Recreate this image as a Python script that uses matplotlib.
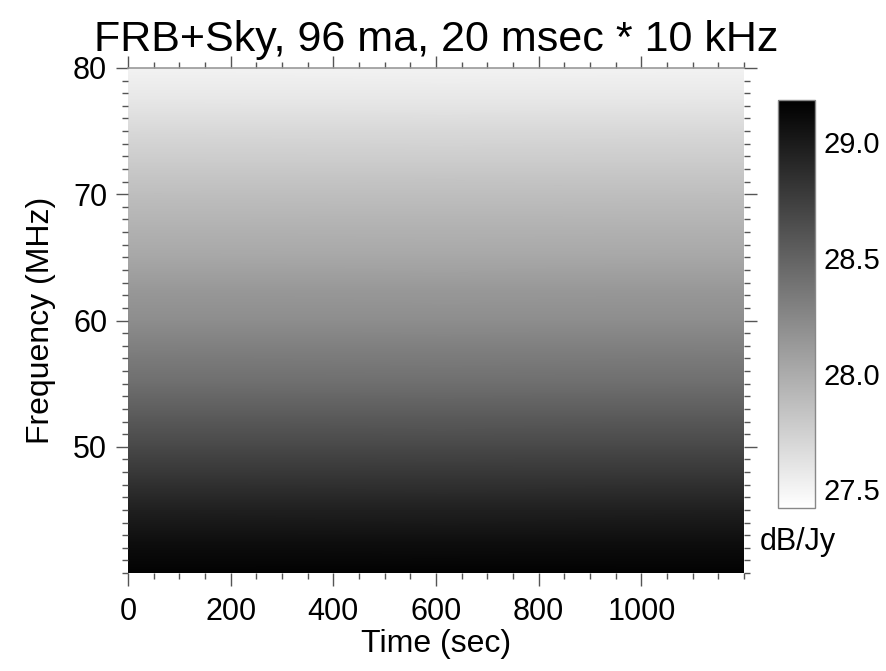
import numpy as np
import matplotlib.pyplot as plt
from matplotlib.ticker import MultipleLocator

plt.rcParams['font.family'] = ['Liberation Sans', 'DejaVu Sans']

# Frequency channels (MHz) and the mean power in each channel (dB/Jy)
freq_mhz = [40.0, 42.5, 45.0, 47.5, 50.0, 52.5, 55.0, 57.5, 60.0,
            62.5, 65.0, 67.5, 70.0, 72.5, 75.0, 77.5, 80.0]
power_db = [29.16, 29.08, 28.96, 28.82, 28.68, 28.55, 28.42, 28.32, 28.21,
            28.13, 28.03, 27.95, 27.87, 27.78, 27.69, 27.59, 27.51]

# Time span of the observation (sec)
time_sec = [0, 1200]

# Tick labels
x_ticks = [0, 200, 400, 600, 800, 1000]
y_ticks = [50, 60, 70, 80]

# Color scale limits
vmin, vmax = 27.42, 29.18
cbar_ticks = [27.5, 28.0, 28.5, 29.0]

T, F = np.meshgrid(time_sec, freq_mhz)
P = np.tile(np.array(power_db)[:, None], (1, len(time_sec)))

fig = plt.figure(figsize=(8.87, 6.71), dpi=100)
ax = fig.add_axes([0.1443, 0.146, 0.6945, 0.7527])

mesh = ax.pcolormesh(T, F, P, cmap='gray_r', vmin=vmin, vmax=vmax,
                     shading='gouraud')

ax.set_xlim(0, 1200)
ax.set_ylim(40, 80)
ax.set_xticks(x_ticks)
ax.set_yticks(y_ticks)
ax.xaxis.set_minor_locator(MultipleLocator(50))
ax.yaxis.set_minor_locator(MultipleLocator(1))

ax.tick_params(which='both', direction='out', top=True, right=True,
               color='#555555', width=1.0)
ax.tick_params(which='major', length=9, labelsize=22)
ax.tick_params(which='minor', length=4.5)
ax.tick_params(axis='x', which='major', pad=8)
ax.tick_params(axis='y', which='major', pad=6)

for side in ['left', 'right', 'bottom']:
    ax.spines[side].set_visible(False)
ax.spines['top'].set_color('#999999')
ax.spines['top'].set_linewidth(1.2)

ax.set_xlabel('Time (sec)', fontsize=23, labelpad=2)
ax.set_ylabel('Frequency (MHz)', fontsize=23, labelpad=12)
ax.set_title('FRB+Sky, 96 ma, 20 msec * 10 kHz', fontsize=31, pad=12)

# Colorbar on the right
cax = fig.add_axes([0.877, 0.243, 0.0417, 0.608])
cb = fig.colorbar(mesh, cax=cax, ticks=cbar_ticks, format='%.1f')
cb.ax.tick_params(length=0, labelsize=21, pad=6)
cb.outline.set_edgecolor('#888888')
cb.outline.set_linewidth(1.0)
fig.text(0.899, 0.192, 'dB/Jy', fontsize=22, ha='center', va='center')

fig.savefig('out.png', dpi=100)
